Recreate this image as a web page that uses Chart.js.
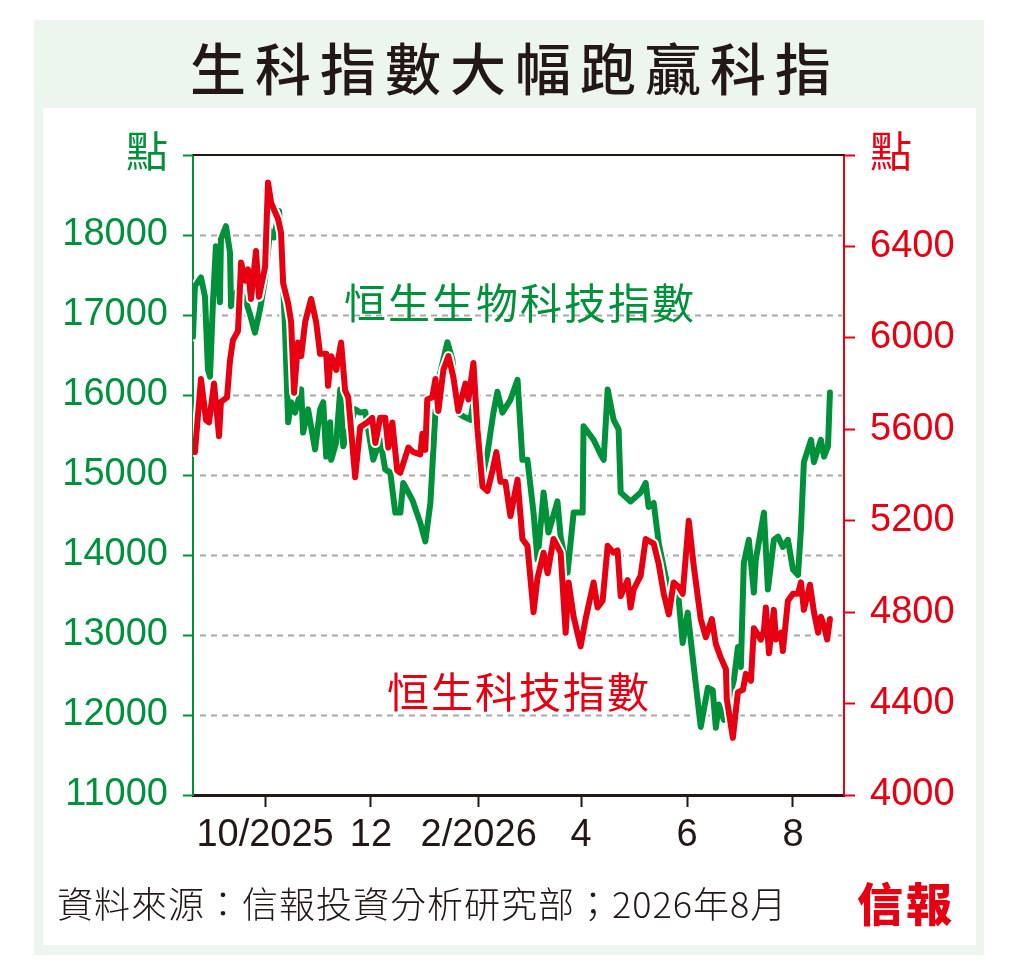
<!DOCTYPE html>
<html>
<head>
<meta charset="utf-8">
<script src="https://cdn.jsdelivr.net/npm/chart.js@4.4.1/dist/chart.umd.min.js"></script>
<style>
  body { margin: 0; width: 1024px; height: 967px; position: relative; overflow: hidden; background: #fff;
         font-family: "Noto Sans CJK TC", "Noto Sans CJK SC", sans-serif; }
  #frame { position: absolute; left: 34px; top: 20px; width: 950px; height: 935px; background: #edf6ee; }
  #panel { position: absolute; left: 43px; top: 108px; width: 933px; height: 837px; background: #fff; }
  #title { position: absolute; left: 190px; top: 38px; font-size: 56px; line-height: 56px; letter-spacing: 9px;
           color: #231815; font-weight: 500; white-space: nowrap; }
  #wrap { position: absolute; left: 0; top: 0; width: 1024px; height: 967px; }
  .tag { position: absolute; font-size: 42px; line-height: 42px; letter-spacing: 2px; white-space: nowrap; }
  #tagBio { left: 344px; top: 280px; color: #00913a; }
  #tagTech { left: 387px; top: 669px; color: #e60012; }
  #source { position: absolute; left: 57px; top: 884px; font-size: 36px; line-height: 36px; font-weight: 300;
            letter-spacing: 1px; color: #231815; white-space: nowrap; }
  #logo { position: absolute; left: 857px; top: 878px; font-size: 46px; line-height: 46px; font-weight: 900;
          color: #e60012; letter-spacing: 3px; }
</style>
</head>
<body>
<div id="frame"></div>
<div id="panel"></div>
<div id="title">生科指數大幅跑贏科指</div>
<div id="wrap"><canvas id="chart"></canvas></div>
<div class="tag" id="tagBio">恒生生物科技指數</div>
<div class="tag" id="tagTech">恒生科技指數</div>
<div id="source">資料來源：信報投資分析研究部；2026年8月</div>
<div id="logo">信報</div>

<script>
// days counted from 1 Oct 2025
const monthDays = [0, 61, 123, 182, 243, 304];
const monthLabels = ["10/2025", "12", "2/2026", "4", "6", "8"];

// 恒生生物科技指數 (left axis)
const greenDay = [-41.5,-40.4,-36.9,-34.6,-32.9,-31.7,-30.0,-28.3,-26.0,-25.4,-22.5,-20.2,-19.6,-15.6,-11.5,-8.7,-5.8,-2.9,0,2.9,
  5.2,8.1,9.8,11.5,13.3,15.0,17.3,20.8,21.9,24.8,28.8,31.7,33.5,35.2,37.5,38.1,41.0,43.3,45.0,51.9,
  54.8,57.7,62.3,66.3,69.2,72.1,75.0,77.9,79.6,84.8,89.4,92.3,95.2,98.1,100.9,105.0,107.9,110.8,114.2,118.3,
  120.0,124.0,128.1,131.5,133.8,136.7,141.3,145.4,148.2,151.1,154.6,156.9,160.4,163.2,168.4,170.2,174.2,177.7,182.9,183.4,
  189.2,193.2,195.0,197.3,200.7,203.6,204.8,210.5,216.3,219.2,220.9,223.8,226.7,231.9,238.2,240.5,243.4,246.9,250.9,255.0,
  257.8,259.6,261.3,264.2,270.0,272.3,274.0,275.7,278.6,281.5,282.6,287.3,289.6,293.0,295.4,298.2,301.1,304.0,306.9,308.6,
  310.3,314.4,316.1,320.1,321.9,324.2,325.3];
const greenValue = [16730,17360,17470,17230,16320,16230,17160,17860,17160,17950,18110,17780,17110,17320,17200,17010,16780,17070,17450,18050,
  17970,18300,17700,16820,15660,15910,15780,16070,15530,15820,15320,15820,15910,15230,15660,15190,15410,16070,15360,15820,
  15780,15790,15190,15440,15070,15030,14530,14530,14900,14690,14400,14170,14650,15780,16280,16660,16440,15780,15730,15690,
  15910,14860,15280,15780,16040,15780,15940,16190,15190,15190,14530,13940,14780,14280,14670,14230,13780,14530,14530,15610,
  15440,15260,15190,16070,15690,15570,14780,14670,14780,14900,14600,14650,14150,13600,13440,12900,13280,12600,11850,12340,
  12310,11840,12130,11940,12440,12850,12600,13900,14190,13530,13940,14530,13570,14190,14230,14100,14190,13820,13750,14320,
  15160,15440,15160,15440,15230,15360,16030];

// 恒生科技指數 (right axis)
const redDay = [-41.5,-40.4,-36.9,-34.0,-32.3,-29.4,-26.5,-25.4,-21.9,-20.2,-18.5,-15.6,-13.8,-11.5,-9.8,-8.1,-5.2,-3.5,0,1.7,
  3.5,7.5,9.2,10.4,13.3,15.0,16.7,19.0,20.8,23.1,26.5,29.4,31.7,35.2,36.3,38.1,41.0,43.8,46.1,47.9,
  51.9,54.8,58.8,61.7,63.5,66.3,69.2,71.0,73.3,76.1,77.9,82.5,85.4,89.4,90.6,92.3,93.4,96.3,98.1,99.8,
  102.7,105.6,108.4,111.3,115.4,117.1,120.0,122.3,125.2,128.1,131.0,133.2,135.6,138.4,141.3,145.4,148.2,151.1,154.6,156.9,
  160.4,162.7,166.1,170.2,173.1,174.8,177.7,181.7,184.6,189.2,191.5,194.4,197.3,200.7,203.0,204.8,208.8,210.5,212.3,216.3,
  219.2,223.8,226.7,229.6,232.5,235.3,238.2,240.5,244.0,246.9,250.9,253.8,257.3,259.6,262.5,265.4,265.9,269.4,272.3,275.2,
  276.9,279.8,281.5,285.5,287.3,288.4,290.2,293.0,294.2,297.1,298.2,301.1,304.0,306.9,308.6,310.3,313.8,316.1,318.5,320.1,
  321.9,323.7,325.3];
const redValue = [5540,5500,5820,5640,5630,5800,5570,5720,5740,5900,5990,6030,6330,6250,6300,6170,6380,6180,6310,6680,
  6590,6520,6460,6240,6150,6070,5760,5980,5920,6070,6170,6070,5930,5930,5790,5920,5860,5980,5770,5740,
  5390,5610,5630,5650,5540,5650,5650,5520,5630,5420,5410,5520,5500,5490,5580,5510,5730,5740,5820,5680,
  5860,5920,5830,5680,5800,5730,5890,5600,5350,5330,5420,5500,5370,5370,5220,5380,5120,5090,4800,4950,
  5060,4970,5120,5060,4710,4930,4780,4650,4770,4930,4820,4850,5090,5060,5070,4870,4940,4820,4900,4960,
  5120,5100,5010,4880,4790,4930,4910,4880,5200,5000,4770,4690,4770,4660,4600,4550,4420,4250,4450,4460,
  4530,4500,4730,4680,4720,4820,4620,4810,4680,4710,4630,4850,4880,4880,4930,4810,4920,4800,4710,4780,
  4740,4680,4770];

const leftGrid = [12000, 13000, 14000, 15000, 16000, 17000, 18000];

const GREEN = "#00913a";
const RED = "#e60012";
const INK = "#231815";
const NUM_FONT = '"Liberation Sans", Arial, "Noto Sans CJK TC", sans-serif';

function points(days, values) {
  return days.map((d, i) => ({ x: d, y: values[i] }));
}

// dashed grid lines and the black top rule
const frameLines = {
  id: "frameLines",
  beforeDatasetsDraw(chart) {
    const { ctx, chartArea, scales } = chart;
    ctx.save();
    ctx.strokeStyle = "#a8a8a8";
    ctx.lineWidth = 2;
    ctx.setLineDash([6, 5]);
    leftGrid.forEach(v => {
      const y = Math.round(scales.y.getPixelForValue(v)) + 0.5;
      ctx.beginPath();
      ctx.moveTo(chartArea.left + 7, y);
      ctx.lineTo(chartArea.right - 2, y);
      ctx.stroke();
    });
    ctx.setLineDash([]);
    ctx.strokeStyle = INK;
    ctx.lineWidth = 2;
    ctx.beginPath();
    ctx.moveTo(chartArea.left, chartArea.top);
    ctx.lineTo(chartArea.right, chartArea.top);
    ctx.stroke();
    ctx.restore();
  }
};

document.addEventListener("DOMContentLoaded", () => {
  const ctx = document.getElementById("chart").getContext("2d");
  new Chart(ctx, {
    type: "line",
    data: {
      datasets: [
        { data: points(greenDay, greenValue), yAxisID: "y", borderColor: "#fff", borderWidth: 10, order: 4 },
        { data: points(greenDay, greenValue), yAxisID: "y", borderColor: GREEN, borderWidth: 6, order: 3 },
        { data: points(redDay, redValue), yAxisID: "y1", borderColor: "#fff", borderWidth: 10, order: 2 },
        { data: points(redDay, redValue), yAxisID: "y1", borderColor: RED, borderWidth: 6, order: 1 }
      ]
    },
    options: {
      responsive: true,
      maintainAspectRatio: false,
      animation: false,
      layout: { padding: { top: 155, left: 0, right: 0, bottom: 0 } },
      elements: {
        point: { radius: 0 },
        line: { tension: 0, borderJoinStyle: "round", borderCapStyle: "round" }
      },
      plugins: { legend: { display: false }, tooltip: { enabled: false } },
      scales: {
        x: {
          type: "linear",
          min: -41.5,
          max: 333.4,
          afterBuildTicks: scale => { scale.ticks = monthDays.map(v => ({ value: v })); },
          afterFit: scale => { scale.height = 172; },
          grid: { drawOnChartArea: false, tickLength: 12, tickWidth: 2, tickColor: INK },
          border: { color: INK, width: 3 },
          ticks: {
            autoSkip: false,
            maxRotation: 0,
            padding: 6,
            color: INK,
            font: { family: NUM_FONT, size: 38 },
            callback: (value, index) => monthLabels[index]
          }
        },
        y: {
          position: "left",
          min: 11000,
          max: 19000,
          afterFit: scale => { scale.width = 193; },
          grid: { drawOnChartArea: false, tickLength: 10, tickWidth: 2, tickColor: GREEN },
          border: { color: GREEN, width: 2 },
          ticks: {
            stepSize: 1000,
            padding: 15,
            color: GREEN,
            font: c => ({ family: NUM_FONT, size: c.tick && c.tick.value === 19000 ? 42 : 38 }),
            callback: v => (v === 19000 ? "點" : String(v))
          }
        },
        y1: {
          position: "right",
          min: 4000,
          max: 6800,
          afterFit: scale => { scale.width = 180; },
          grid: { drawOnChartArea: false, tickLength: 11, tickWidth: 2, tickColor: RED },
          border: { color: RED, width: 2 },
          ticks: {
            stepSize: 400,
            padding: 15,
            color: RED,
            font: c => ({ family: NUM_FONT, size: c.tick && c.tick.value === 6800 ? 42 : 38 }),
            callback: v => (v === 6800 ? "點" : String(v))
          }
        }
      }
    },
    plugins: [frameLines]
  });
});
</script>
</body>
</html>
